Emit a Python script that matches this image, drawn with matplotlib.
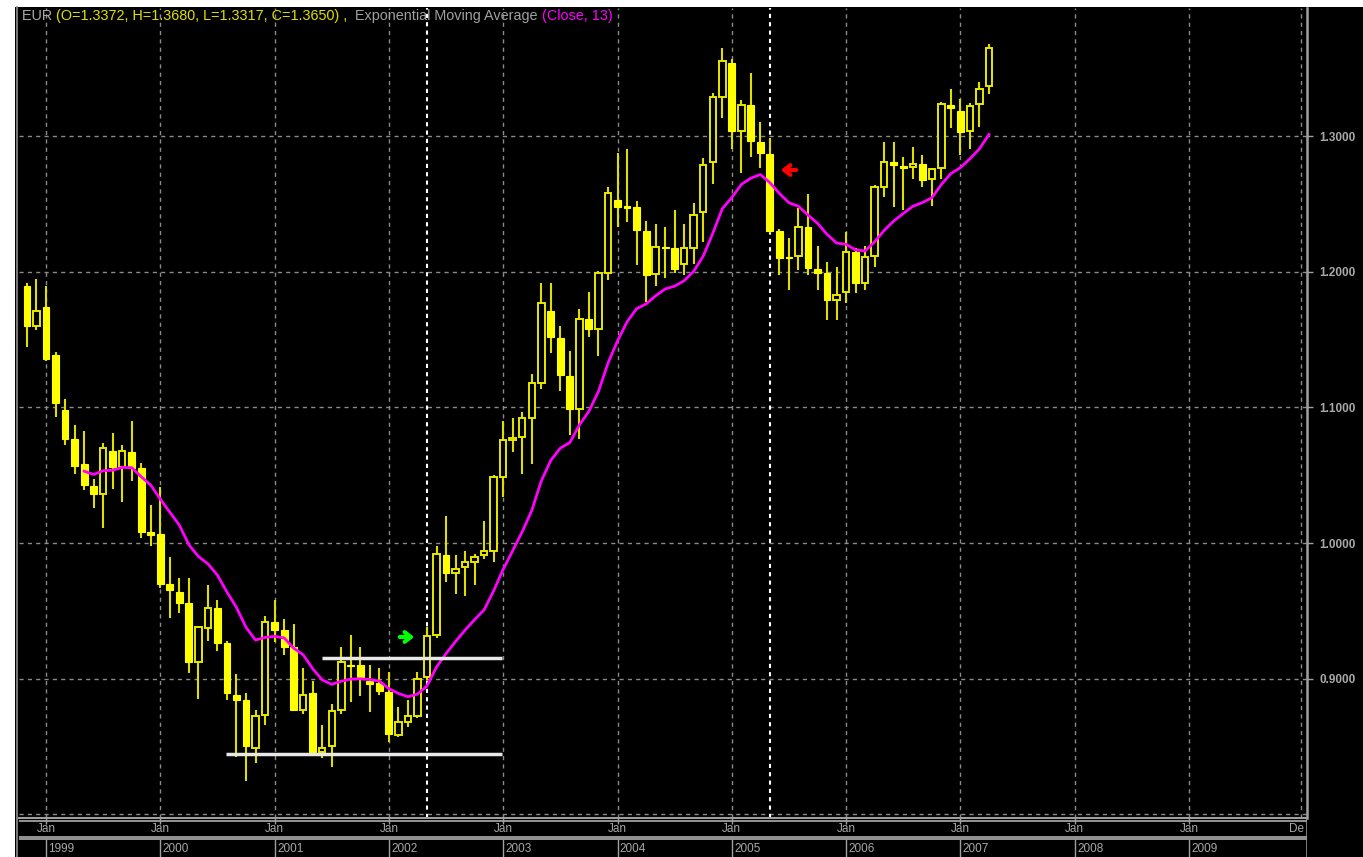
import numpy as np
import pandas as pd
import matplotlib
matplotlib.use('Agg')
import matplotlib.pyplot as plt
from matplotlib.patches import Rectangle

plt.rcParams['font.family'] = ['Liberation Sans', 'DejaVu Sans']

# --- monthly EUR candles, Nov 1998 .. Apr 2007 ---
months = pd.date_range('1998-11-01', periods=102, freq='MS')
opens = [1.190, 1.160, 1.174, 1.139, 1.098, 1.077, 1.058, 1.042, 1.036, 1.068,
         1.056, 1.067, 1.055, 1.008, 1.007, 0.970, 0.964, 0.956, 0.912, 0.937,
         0.952, 0.926, 0.888, 0.884, 0.849, 0.873, 0.942, 0.936, 0.923, 0.877,
         0.889, 0.846, 0.850, 0.877, 0.910, 0.910, 0.898, 0.897, 0.890, 0.858,
         0.868, 0.872, 0.901, 0.932, 0.991, 0.978, 0.982, 0.986, 0.991, 0.994,
         1.049, 1.076, 1.078, 1.092, 1.118, 1.171, 1.151, 1.123, 1.099, 1.165,
         1.158, 1.199, 1.253, 1.249, 1.248, 1.2305, 1.1985, 1.2187, 1.218, 1.206,
         1.218, 1.2445, 1.281, 1.329, 1.354, 1.304, 1.323, 1.296, 1.287, 1.2305,
         1.211, 1.212, 1.233, 1.202, 1.199, 1.179, 1.1855, 1.2145, 1.192, 1.212,
         1.263, 1.281, 1.278, 1.2773, 1.280, 1.2684, 1.277, 1.3232, 1.3188, 1.3043,
         1.3238, 1.3372]
highs = [1.192, 1.195, 1.190, 1.141, 1.106, 1.087, 1.083, 1.047, 1.074, 1.081,
         1.072, 1.090, 1.059, 1.028, 1.041, 0.990, 0.974, 0.974, 0.939, 0.969,
         0.958, 0.928, 0.903, 0.889, 0.877, 0.946, 0.958, 0.944, 0.940, 0.908,
         0.898, 0.866, 0.881, 0.923, 0.932, 0.923, 0.910, 0.908, 0.905, 0.879,
         0.884, 0.905, 0.938, 0.998, 1.020, 0.991, 0.994, 0.992, 1.016, 1.050,
         1.090, 1.092, 1.097, 1.125, 1.192, 1.192, 1.160, 1.142, 1.173, 1.185,
         1.201, 1.263, 1.288, 1.291, 1.2524, 1.2379, 1.2355, 1.2334, 1.2458, 1.2355,
         1.251, 1.284, 1.332, 1.365, 1.357, 1.327, 1.347, 1.311, 1.299, 1.232,
         1.225, 1.247, 1.2576, 1.219, 1.2076, 1.204, 1.2297, 1.218, 1.219, 1.264,
         1.296, 1.296, 1.285, 1.292, 1.2863, 1.277, 1.3257, 1.335, 1.328, 1.3245,
         1.340, 1.3680]
lows = [1.145, 1.157, 1.134, 1.093, 1.072, 1.051, 1.039, 1.026, 1.011, 1.040,
        1.030, 1.046, 1.004, 0.998, 0.967, 0.945, 0.948, 0.904, 0.885, 0.928,
        0.920, 0.884, 0.842, 0.824, 0.838, 0.866, 0.927, 0.917, 0.876, 0.874,
        0.843, 0.841, 0.835, 0.874, 0.883, 0.887, 0.875, 0.888, 0.853, 0.857,
        0.864, 0.871, 0.899, 0.930, 0.971, 0.962, 0.961, 0.969, 0.988, 0.986,
        1.034, 1.067, 1.051, 1.058, 1.114, 1.140, 1.112, 1.080, 1.077, 1.152,
        1.138, 1.194, 1.2334, 1.237, 1.2052, 1.178, 1.190, 1.1954, 1.199, 1.198,
        1.206, 1.222, 1.265, 1.314, 1.291, 1.273, 1.285, 1.277, 1.229, 1.198,
        1.187, 1.2015, 1.198, 1.187, 1.1646, 1.1646, 1.177, 1.1843, 1.187, 1.2035,
        1.2556, 1.2478, 1.2458, 1.269, 1.263, 1.2487, 1.269, 1.306, 1.2863, 1.291,
        1.3068, 1.3317]
closes = [1.160, 1.171, 1.136, 1.103, 1.077, 1.057, 1.043, 1.036, 1.070, 1.056,
          1.068, 1.055, 1.008, 1.006, 0.970, 0.965, 0.956, 0.912, 0.938, 0.952,
          0.926, 0.889, 0.884, 0.850, 0.872, 0.942, 0.936, 0.923, 0.877, 0.888,
          0.846, 0.849, 0.876, 0.912, 0.909, 0.901, 0.896, 0.891, 0.859, 0.868,
          0.872, 0.900, 0.931, 0.992, 0.978, 0.981, 0.986, 0.990, 0.994, 1.049,
          1.076, 1.077, 1.092, 1.118, 1.177, 1.152, 1.124, 1.099, 1.165, 1.158,
          1.199, 1.258, 1.2478, 1.2475, 1.231, 1.1978, 1.2182, 1.218, 1.202, 1.218,
          1.242, 1.279, 1.329, 1.356, 1.304, 1.323, 1.297, 1.288, 1.230, 1.210,
          1.210, 1.233, 1.203, 1.1995, 1.179, 1.183, 1.2145, 1.1917, 1.211, 1.263,
          1.281, 1.279, 1.2765, 1.280, 1.268, 1.2758, 1.3238, 1.3208, 1.3035, 1.3227,
          1.335, 1.3650]

ema_period = 13
ema_first_bar = 6
ema_first_value = 1.053

axis_years = list(range(1999, 2010))
price_ticks = [0.9, 1.0, 1.1, 1.2, 1.3]
support_lines = [(0.8443, 20.9, 49.9), (0.9148, 30.97, 49.9)]
marker_bars = [42, 78]

W, H = 1363, 857
BG = 'black'
GRID = '#8a8a8a'
TXT = '#a8a8a8'
YEL = '#ffff00'
WICK = '#dede00'

# EMA(13) of close
alpha = 2.0 / (ema_period + 1)
ema = [ema_first_value]
for c in closes[ema_first_bar + 1:]:
    ema.append(ema[-1] + alpha * (c - ema[-1]))

idx = np.arange(len(months))
jan_idx = [(y - 1998) * 12 - 10 for y in axis_years]

# pixel layout -> index / price ranges
def px_to_i(px):
    return (px - 26.95) / 9.525

def px_to_v(py):
    return 1.3 - (py - 136.5) / 1355.0

x_lo, x_hi = px_to_i(19), px_to_i(1307)

fig = plt.figure(figsize=(W / 100, H / 100), dpi=100, facecolor=BG)
# white margin strips (top and left)
fig.patches.append(Rectangle((0, 1 - 7 / H), 1, 7 / H, transform=fig.transFigure,
                             facecolor='white', edgecolor='none', zorder=-5))
fig.patches.append(Rectangle((0, 0), 15 / W, 1, transform=fig.transFigure,
                             facecolor='white', edgecolor='none', zorder=-5))

ax = fig.add_axes([19 / W, (H - 818) / H, (1307 - 19) / W, (818 - 8) / H])
ax.set_facecolor(BG)
ax.set_xlim(x_lo, x_hi)
ax.set_ylim(px_to_v(818), px_to_v(8))

# grid
for gi in jan_idx + [133.8]:
    ax.axvline(gi, color=GRID, lw=1, ls=(0, (3, 3)), zorder=1)
for gv in [0.8] + price_ticks:
    ax.axhline(gv, color=GRID, lw=1, ls=(0, (3, 3)), zorder=1)

# white marker lines
for mb in marker_bars:
    ax.axvline(mb, color='white', lw=1.5, ls=(0, (2, 2)), zorder=2)

# candles
o = np.array(opens); h = np.array(highs); l = np.array(lows); c = np.array(closes)
ax.vlines(idx, l, h, color=WICK, lw=1.5, zorder=3)
up = c >= o
dn = ~up
ax.bar(idx[dn], (o - c)[dn], bottom=c[dn], width=0.72, color=YEL,
       edgecolor=YEL, lw=0.8, zorder=4)
ax.bar(idx[up], np.maximum((c - o)[up], 0.0015), bottom=o[up], width=0.68,
       color=BG, edgecolor='#e8e800', lw=1.4, zorder=4)

# EMA
ax.plot(idx[ema_first_bar:], ema, color='#ff00ff', lw=2.0, zorder=5)

# support / resistance lines
for val, x0, x1 in support_lines:
    ax.hlines(val, x0, x1, color='#e8e8e8', lw=2.5, zorder=6)

# arrows
ax.annotate('', xy=(px_to_i(417), px_to_v(637)), xytext=(px_to_i(397), px_to_v(637)),
            arrowprops=dict(arrowstyle='->,head_length=0.45,head_width=0.35',
                            color='#00ff00', lw=3), zorder=7)
ax.annotate('', xy=(px_to_i(778), px_to_v(170)), xytext=(px_to_i(799), px_to_v(170)),
            arrowprops=dict(arrowstyle='->,head_length=0.45,head_width=0.35',
                            color='#ff0000', lw=3), zorder=7)

# axes frame
for s in ['top', 'left']:
    ax.spines[s].set_visible(False)
ax.spines['right'].set_color('#a0a0a0')
ax.spines['right'].set_linewidth(1.8)
ax.spines['bottom'].set_color('#a0a0a0')
ax.spines['bottom'].set_linewidth(1.5)
ax.set_xticks([])
ax.yaxis.tick_right()
ax.set_yticks(price_ticks)
ax.set_yticklabels(['%.4f' % v for v in price_ticks])
ax.tick_params(axis='y', colors='#a0a0a0', length=4, width=1, pad=5,
               labelsize=8.5, labelcolor=TXT)
for t in ax.get_yticklabels():
    t.set_fontweight('bold')

# left frame line
fig.add_artist(plt.Line2D([17 / W, 17 / W], [0, 1 - 7 / H], color='#909090', lw=1.2))

# date band
axb = fig.add_axes([19 / W, 0, (1307 - 19) / W, (857 - 818) / H])
axb.set_facecolor(BG)
axb.set_xlim(x_lo, x_hi)
axb.set_ylim(857, 818)
axb.axis('off')
axb.hlines([820.5, 836.5, 839], x_lo, x_hi, color='#a0a0a0', lw=1.3)
axb.vlines(x_hi, 818, 857, color='#a0a0a0', lw=1.8)
for gi, yr in zip(jan_idx, axis_years):
    axb.vlines(gi, 818, 824, color='#a0a0a0', lw=1)
    axb.text(gi, 829, 'Jan', color=TXT, fontsize=8.5, ha='center', va='center')
    axb.vlines(gi, 839, 857, color='#a0a0a0', lw=1)
    axb.text(gi + 0.25, 848.5, str(yr), color=TXT, fontsize=8.5, ha='left', va='center')
axb.text(px_to_i(1297), 829, 'De', color=TXT, fontsize=8.5, ha='center', va='center')

# header
last = len(closes) - 1
parts = [('EUR ', '#a8a8a8'),
         ('(O=%.4f, H=%.4f, L=%.4f, C=%.4f) ,' % (opens[last], highs[last], lows[last], closes[last]), '#e0e000'),
         ('  Exponential Moving Average ', '#a0a0a0'),
         ('(Close, %d)' % ema_period, '#ff00ff')]
fig.canvas.draw()
r = fig.canvas.get_renderer()
xpix = 22
for s, col in parts:
    t = fig.text(xpix / W, 1 - 16 / H, s, color=col, fontsize=10.4, ha='left', va='center')
    xpix = t.get_window_extent(r).x1

fig.savefig('out.png', dpi=100, facecolor=BG)
